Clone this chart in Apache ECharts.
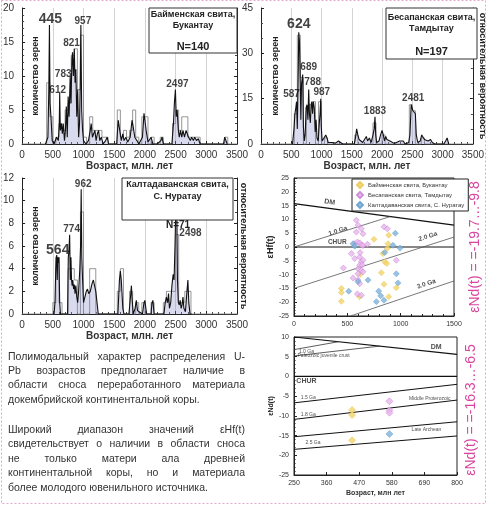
<!DOCTYPE html>
<html>
<head>
<meta charset="utf-8">
<script src="https://cdn.jsdelivr.net/npm/echarts@6/dist/echarts.min.js"></script>
<style>html,body{margin:0;padding:0;background:#fff}#main{width:487px;height:505px}</style>
</head>
<body>
<div id="main"></div>
<script>
var FONT = "'Liberation Sans', Arial, sans-serif";

// ---- U-Pb age spectra: probability curves [age, value] ----
var curve1 = [[380,0],[420,1],[435,8],[445,17.5],[455,6],[470,4],[490,0.5],[520,0],[560,1],[590,0.5],[605,3],[612,7.5],[622,2],[640,3],[655,1.5],[670,3],[690,0.5],[705,2],[720,5.5],[735,1],[750,7],[765,4],[783,10],[795,6],[812,12.5],[821,13.5],[835,10],[850,14],[862,9],[875,11],[890,4],[905,8],[920,1],[935,3],[945,8],[957,17.5],[970,5],[985,2],[1000,0.5],[1040,0],[1080,0.5],[1110,2],[1125,3],[1145,1],[1165,1.5],[1185,2],[1205,0.5],[1225,1.5],[1245,2],[1265,0.5],[1290,1],[1320,0],[1360,0.5],[1385,1],[1410,0],[1540,0],[1565,3.5],[1590,2],[1615,0.5],[1640,1.5],[1660,0.5],[1690,1],[1720,0.3],[1760,1],[1790,3.5],[1810,2.5],[1835,1],[1870,0.5],[1900,0],[1960,1],[1985,4.5],[2000,3.5],[2020,2],[2050,0.3],[2100,1],[2130,0],[2200,0],[2260,0.5],[2280,1],[2300,0],[2440,0],[2465,3],[2480,6],[2497,8],[2510,4],[2525,5],[2545,2],[2560,1],[2580,2],[2600,1],[2620,2],[2645,1],[2670,2],[2690,1.5],[2710,1],[2740,0.5],[2760,1],[2790,0.5],[2810,1],[2840,0.5],[2870,0.8],[2900,0],[3280,0],[3300,1],[3320,0.8],[3340,0]];
var curve2 = [[520,0],[545,5],[560,10],[575,12],[587,14],[600,5],[612,20],[624,37],[635,34],[645,25],[658,8],[670,20],[689,23],[700,6],[715,1],[730,3],[745,12],[760,13],[775,8],[788,18],[800,10],[815,7],[828,13],[840,14],[852,10],[865,14],[880,12],[895,4],[910,8],[925,2],[945,1],[960,6],[975,10],[987,15],[995,6],[1010,1],[1040,1],[1070,3],[1090,2],[1110,0.5],[1140,1],[1170,0.5],[1200,1],[1230,0.3],[1280,1],[1310,0.5],[1350,0],[1540,0],[1560,2],[1580,5],[1600,3],[1620,1.5],[1650,1],[1680,0.5],[1710,1],[1740,2.5],[1760,1],[1790,2],[1820,0.5],[1850,3],[1870,5],[1883,9],[1895,3],[1910,0.5],[1950,1],[1975,3],[2000,4.5],[2020,3],[2040,1],[2060,2.5],[2080,1.5],[2100,2],[2130,1],[2160,0.5],[2200,0.2],[2290,1],[2320,0.5],[2350,1],[2380,0],[2440,0.5],[2460,3],[2481,13],[2495,12],[2510,11],[2530,11],[2550,10],[2565,3],[2590,0.5],[2630,1],[2655,3],[2680,2.5],[2700,1.5],[2730,2],[2760,1],[2800,1.5],[2830,0.5],[2870,0],[3020,0],[3050,1],[3075,2],[3100,0]];
var curve3 = [[520,0],[535,1],[548,4],[556,5],[564,5.2],[572,3],[580,5],[590,4.5],[600,5],[612,1],[625,0],[740,0],[752,5],[762,5.5],[774,7],[785,3],[795,5],[805,3],[815,2.5],[825,3],[838,2.2],[850,2.6],[862,1.8],[875,2.5],[890,1.5],[905,1],[920,2],[940,4],[952,6],[962,11],[972,5],[985,3],[1000,1],[1020,1],[1045,2],[1065,2.2],[1085,1.8],[1110,2],[1140,2.7],[1160,3],[1180,2.5],[1200,2],[1220,1],[1240,0],[1560,0],[1585,3],[1600,3.8],[1615,3],[1640,0.5],[1660,0],[1740,0],[1765,1.5],[1780,2.5],[1795,1],[1810,0],[1840,0.5],[1860,1.2],[1880,0.3],[1960,0],[1985,1],[2000,1.2],[2015,0.5],[2030,0],[2100,0],[2115,1],[2130,1.2],[2150,0],[2310,0],[2330,1],[2350,1.5],[2370,1],[2385,1.8],[2400,0.5],[2420,1],[2440,2.5],[2460,3.5],[2475,3],[2490,6],[2498,8],[2510,11.5],[2520,9],[2530,3],[2545,1],[2560,0.8],[2575,1.2],[2590,0.5],[2605,0.8],[2620,1.5],[2635,0.5],[2660,0.2],[2685,2],[2700,3],[2715,1],[2735,0],[2760,0]];

// ---- histograms: [bin start, count], 50 Ma bins ----
var hist1 = [[400,9],[450,4],[550,1],[600,3],[650,2],[700,5],[750,6],[800,13],[850,14],[900,8],[950,16],[1000,1],[1100,4],[1150,2],[1200,2],[1250,2],[1300,1],[1350,1],[1550,5],[1600,1],[1650,2],[1700,1],[1750,2],[1800,5],[1850,1],[1950,4],[2000,4],[2100,1],[2250,1],[2450,3],[2500,5],[2550,2],[2600,4],[2650,4],[2700,1],[2750,1],[2800,1],[2850,1],[3300,1]];
var hist2 = [[550,10],[600,36],[650,22],[750,12],[800,13],[850,14],[950,14],[1050,2],[1550,3],[1850,7],[2000,3],[2450,13],[2500,11],[2650,2]];
var hist3 = [[500,1],[550,5],[600,1],[750,4],[800,4],[850,3],[950,9],[1100,4],[1150,4],[1550,2],[1600,4],[1750,2],[1850,1],[1950,1],[2100,1],[2300,1],[2350,2],[2400,2],[2450,2],[2500,7],[2550,1],[2600,1],[2650,2],[2700,2]];

// ---- peak labels [age, value, text] ----
var peaks1 = [[445,17.5,'445'],[957,17.5,'957'],[821,13.5,'821'],[783,10,'783'],[612,7.5,'612'],[2497,8,'2497']];
var peaks2 = [[624,37,'624'],[689,23,'689'],[788,18,'788'],[587,14,'587'],[987,15,'987'],[1883,9,'1883'],[2481,13,'2481']];
var peaks3 = [[564,5.2,'564'],[774,7,'774'],[962,11,'962'],[2498,7.6,'2498']];
var peakOff1 = [[1,-6],[2,-4],[-1,-9],[-7,-2],[-2,-3],[2,-5]];
var peakOff2 = [[0,-8],[6,-7],[4,-7],[-5,-7],[1,-6],[0,-6],[2,-6]];
var peakOff3 = [[1,-5],[2,-5],[2,-5],[15,5]];
var peakBig1 = '445', peakBig2 = '624', peakBig3 = '564';

// ---- εHf(t) vs age ----
var hfBaim = [[444,-15],[444,-16.5],[444,-19.7],[615,-18],[750,2.8],[834,-2.4],[850,-5.4],[819,-9.3],[844,-13.5],[888,4.3],[881,1.2],[875,-0.5],[888,-18],[959,-14.8],[620,-10],[870,-6]];
var hfBesap = [[584,9.7],[600,7.9],[584,5.4],[631,6.6],[647,4.8],[569,1.2],[594,1.8],[616,1.5],[631,0.7],[647,0.5],[688,1],[538,-2.4],[569,-4.2],[616,-3.6],[631,-5.4],[647,-4.8],[616,-6.6],[600,-7.9],[631,-8.5],[647,-9],[600,-9.7],[553,-11.2],[600,-12],[616,-13.3],[594,-17],[631,-17.5],[463,-7.6],[844,7.3],[875,6.6],[959,-4.8],[620,-2],[640,-6.5]];
var hfKalt = [[553,1.2],[569,0.3],[513,-16],[694,-12],[772,-19.8],[794,-16],[813,-17.7],[844,-19.3],[850,-2],[950,5],[928,0.6],[994,-0.4],[959,-9.7],[975,-13],[600,-12.5]];
var hfDM = [[0,15.7],[1500,7.9]];
var hfCHUR = [[0,0],[1500,0]];
var hfGa1 = [[0,0],[900,11]];
var hfGa2 = [[0,-15],[1500,3.6]];
var hfGa3 = [[530,-25],[1500,-12.3]];
var hfLabels = [[334,16.3,'DM'],[412,5.8,'1.0 Ga'],[406,1.8,'CHUR'],[1256,3.8,'2.0 Ga'],[1240,-13.4,'3.0 Ga']];
var hfLabelRot = [-8,18,0,18,19];

// ---- εNd(t) vs age ----
var ndBaim = [[446,-8.5],[446,-9.8],[446,-16.2]];
var ndBesap = [[572,-6.3],[572,-8.6],[572,-9.2]];
var ndKalt = [[572,-14.6]];
var ndDM = [[250,10],[800,5.6]];
var ndGa10 = [[250,6.8],[400,8.8]];
var ndPaleo = [[250,5.2],[540,7.7]];
var ndCHUR = [[250,0],[800,0]];
var ndGa15 = [[250,-6.7],[800,-2]];
var ndGa18 = [[250,-10.9],[800,-6]];
var ndGa25a = [[250,-15.3],[800,-11.5]];
var ndGa25b = [[250,-18.5],[800,-15.1]];
var ndTicks = [250,360,470,580,690,800];
var ndLabels = [[730,7.4,'DM'],[292,6.3,'1.0 Ga'],[350,5.2,'Paleozoic juvenile crust'],[292,-1.2,'CHUR'],[298,-5.3,'1.5 Ga'],[298,-9.7,'1.8 Ga'],[314,-16.7,'2.5 Ga'],[708,-5.6,'Middle Proterozoic'],[697,-13.6,'Late Archean']];

var seriesNames = ['Байменская свита, Букантау','Бесапанская свита, Тамдытау','Калтадаванская свита, С. Нуратау'];
var textPar1 = ['Полимодальный характер распределения U-','Pb возрастов предполагает наличие в','области сноса переработанного материала','докембрийской континентальной коры.'];
var textPar2 = ['Широкий диапазон значений εHf(t)','свидетельствует о наличии в области сноса','не только матери ала древней','континентальной коры, но и материала','более молодого ювенильного источника.'];

var chart = echarts.init(document.getElementById('main'));

function steps(bins) {
  var map = {};
  bins.forEach(function (b) { map[b[0]] = b[1]; });
  var out = [];
  for (var a = 0; a <= 3500; a += 50) out.push([a, map[a] || 0]);
  return out;
}
function plain(v) { return String(v); }

var grids = [
  {left: 22, top: 8, width: 215, height: 136},
  {left: 261, top: 8, width: 216, height: 136},
  {left: 22, top: 178, width: 215, height: 136},
  {left: 294, top: 178, width: 160, height: 138, show: true, borderColor: '#222', borderWidth: 1},
  {left: 294, top: 337, width: 163, height: 138, show: true, borderColor: '#222', borderWidth: 1}
];

var axisLine = {show: true, onZero: false, lineStyle: {color: '#222', width: 1}};
function ageAxis(g) {
  return {
    type: 'value', gridIndex: g, min: 0, max: 3500, interval: 500,
    axisLine: axisLine,
    axisTick: {inside: true, length: 3, lineStyle: {color: '#222'}},
    minorTick: {show: true, splitNumber: 5, length: 2, lineStyle: {color: '#444'}},
    axisLabel: {fontSize: 10, color: '#333', margin: 6, fontFamily: FONT, formatter: plain},
    splitLine: {show: true, lineStyle: {color: '#d4d4d4'}},
    name: 'Возраст, млн. лет', nameLocation: 'middle', nameGap: 15,
    nameTextStyle: {fontSize: 10, fontWeight: 'bold', color: '#333', fontFamily: FONT}
  };
}
function countAxis(g, max, step, minor, right) {
  return {
    type: 'value', gridIndex: g, min: 0, max: max, interval: step, position: right ? 'right' : 'left',
    axisLine: axisLine,
    axisTick: {show: true, inside: true, length: 3, lineStyle: {color: '#222'}},
    minorTick: {show: true, splitNumber: minor, length: 2, lineStyle: {color: '#444'}},
    axisLabel: {show: !right, fontSize: 10, color: '#333', margin: 8, fontFamily: FONT},
    splitLine: {show: false}
  };
}
var smallLabel = {fontSize: 7, color: '#333', fontFamily: FONT, formatter: plain};

var xAxes = [ageAxis(0), ageAxis(1), ageAxis(2),
  {type: 'value', gridIndex: 3, min: 0, max: 1500, interval: 500, axisLine: axisLine,
   axisTick: {inside: true, length: 3}, minorTick: {show: true, splitNumber: 5, length: 2},
   axisLabel: Object.assign({margin: 5}, smallLabel), splitLine: {show: false}},
  {type: 'value', gridIndex: 4, min: 250, max: 800, axisLine: axisLine,
   axisTick: {inside: true, length: 3, customValues: ndTicks},
   axisLabel: Object.assign({margin: 5, customValues: ndTicks}, smallLabel), splitLine: {show: false},
   name: 'Возраст, млн лет', nameLocation: 'middle', nameGap: 15,
   nameTextStyle: {fontSize: 7, fontWeight: 'bold', color: '#333', fontFamily: FONT}}
];
var yAxes = [countAxis(0, 20, 5, 5), countAxis(1, 45, 15, 3), countAxis(2, 12, 2, 2),
  countAxis(0, 20, 5, 5, true), countAxis(1, 45, 15, 3, true), countAxis(2, 12, 2, 2, true),
  {type: 'value', gridIndex: 3, min: -25, max: 25, interval: 5, axisLine: axisLine,
   axisTick: {inside: true, length: 3}, minorTick: {show: true, splitNumber: 5, length: 1.5},
   axisLabel: Object.assign({margin: 5}, smallLabel), splitLine: {show: false},
   name: 'εHf(t)', nameLocation: 'middle', nameGap: 17,
   nameTextStyle: {fontSize: 9, fontWeight: 'bold', color: '#222', fontFamily: FONT}},
  {type: 'value', gridIndex: 4, min: -25, max: 10, interval: 5, axisLine: axisLine,
   axisTick: {inside: true, length: 3}, minorTick: {show: true, splitNumber: 5, length: 1.5},
   axisLabel: Object.assign({margin: 5}, smallLabel), splitLine: {show: false},
   name: 'εNd(t)', nameLocation: 'middle', nameGap: 14,
   nameTextStyle: {fontSize: 7, fontWeight: 'bold', color: '#222', fontFamily: FONT}}
];

var hidden = {color: 'rgba(0,0,0,0)'};
var series = [];
[[curve1, hist1, peaks1, peakOff1, peakBig1], [curve2, hist2, peaks2, peakOff2, peakBig2], [curve3, hist3, peaks3, peakOff3, peakBig3]].forEach(function (s, i) {
  series.push({
    type: 'line', xAxisIndex: i, yAxisIndex: i, data: s[0], symbol: 'none', z: 3,
    lineStyle: {color: '#111', width: 1.1},
    areaStyle: {color: 'rgba(135,140,200,0.45)'}
  });
  series.push({
    type: 'line', xAxisIndex: i, yAxisIndex: i, data: steps(s[1]), step: 'end', symbol: 'none', z: 2,
    lineStyle: {color: '#8a8a8a', width: 0.9}
  });
  series.push({
    type: 'scatter', xAxisIndex: i, yAxisIndex: i, symbolSize: 1, z: 6, silent: true,
    itemStyle: hidden,
    data: s[2].map(function (p, k) {
      var big = p[2] === s[4];
      return {value: [p[0], p[1], p[2]], label: {offset: s[3][k], fontSize: big ? 14 : 10}};
    }),
    label: {show: true, position: 'inside', formatter: function (d) { return d.value[2]; }, fontWeight: 'bold', color: '#111', fontFamily: FONT}
  });
});

function refLine(x, y, data, color, width) {
  return {type: 'line', xAxisIndex: x, yAxisIndex: y, data: data, symbol: 'none', silent: true, z: 2,
          lineStyle: {color: color, width: width}};
}
series.push(refLine(3, 6, hfDM, '#111', 1.3), refLine(3, 6, hfCHUR, '#111', 1),
  refLine(3, 6, hfGa1, '#555', 0.8), refLine(3, 6, hfGa2, '#555', 0.8), refLine(3, 6, hfGa3, '#555', 0.8));
series.push(refLine(4, 7, ndDM, '#111', 1.2), refLine(4, 7, ndGa10, '#333', 0.8), refLine(4, 7, ndPaleo, '#333', 0.8),
  refLine(4, 7, ndCHUR, '#111', 1.2), refLine(4, 7, ndGa15, '#111', 1), refLine(4, 7, ndGa18, '#111', 1),
  refLine(4, 7, ndGa25a, '#111', 1), refLine(4, 7, ndGa25b, '#111', 1));

var ptColors = ['#f2d46a', '#e9b6ee', '#7fb2da'];
var ptBorders = ['#e8c54c', '#c57ccf', '#5d9acb'];
[hfBaim, hfBesap, hfKalt].forEach(function (d, i) {
  series.push({type: 'scatter', name: seriesNames[i], xAxisIndex: 3, yAxisIndex: 6, data: d, symbol: 'diamond',
    symbolSize: 6, z: 4, itemStyle: {color: ptColors[i], borderColor: ptBorders[i], borderWidth: 0.6}});
});
[ndBaim, ndBesap, ndKalt].forEach(function (d, i) {
  series.push({type: 'scatter', xAxisIndex: 4, yAxisIndex: 7, data: d, symbol: 'diamond',
    symbolSize: 7, z: 4, itemStyle: {color: ptColors[i], borderColor: ptBorders[i], borderWidth: 0.6}});
});

series.push({type: 'scatter', xAxisIndex: 3, yAxisIndex: 6, symbolSize: 1, itemStyle: hidden, silent: true, z: 5,
  data: hfLabels.map(function (l, k) {
    return {value: l, label: {rotate: hfLabelRot[k], fontSize: l[2] === 'DM' ? 7 : 6.5}};
  }),
  label: {show: true, position: 'inside', formatter: function (d) { return d.value[2]; }, fontWeight: 'bold', color: '#222', fontFamily: FONT}});
series.push({type: 'scatter', xAxisIndex: 4, yAxisIndex: 7, symbolSize: 1, itemStyle: hidden, silent: true, z: 5,
  data: ndLabels.map(function (l) {
    var bold = l[2] === 'DM' || l[2] === 'CHUR';
    return {value: l, label: {fontSize: bold ? 7 : 5, fontWeight: bold ? 'bold' : 'normal'}};
  }),
  label: {show: true, position: 'inside', formatter: function (d) { return d.value[2]; }, color: '#222', fontFamily: FONT}});

// ---- graphic overlays ----
var g = [];
g.push({type: 'rect', shape: {x: 1.5, y: 0.5, width: 484, height: 503}, z: 0,
  style: {fill: 'none', stroke: '#e7a6cf', lineWidth: 1, lineDash: [2, 2]}});

function box(x, y, w, h, lines) {
  g.push({type: 'rect', shape: {x: x, y: y, width: w, height: h}, z: 100,
    style: {fill: '#fff', stroke: '#333', lineWidth: 1}});
  lines.forEach(function (l) {
    g.push({type: 'text', x: x + w / 2, y: l[1], z: 101,
      style: {text: l[0], font: 'bold ' + l[2] + 'px ' + FONT, fill: '#222', textAlign: 'center', textVerticalAlign: 'middle', align: 'center', verticalAlign: 'middle'}});
  });
}
box(149, 8, 88, 45, [['Байменская свита,', 15, 9], ['Букантау', 26, 9], ['N=140', 47, 11]]);
box(386, 8, 91, 51, [['Бесапанская свита,', 18, 9], ['Тамдытау', 29, 9], ['N=197', 52, 11]]);
box(122, 178, 111, 42, [['Калтадаванская свита,', 185, 9], ['С. Нуратау', 197, 9]]);
g.push({type: 'text', x: 178, y: 225, z: 101,
  style: {text: 'N=71', font: 'bold 10px ' + FONT, fill: '#222', textAlign: 'center', textVerticalAlign: 'middle', align: 'center', verticalAlign: 'middle'}});

function vtext(x, y, txt, font, color, rot) {
  g.push({type: 'text', x: x, y: y, rotation: rot, z: 101,
    style: {text: txt, font: font, fill: color, textAlign: 'center', textVerticalAlign: 'middle', align: 'center', verticalAlign: 'middle'}});
}
vtext(36, 76, 'количество зерен', 'bold 9px ' + FONT, '#222', Math.PI / 2);
vtext(276, 76, 'количество зерен', 'bold 9px ' + FONT, '#222', Math.PI / 2);
vtext(36, 246, 'количество зерен', 'bold 9px ' + FONT, '#222', Math.PI / 2);
vtext(482, 76, 'относительная вероятность', 'bold 9px ' + FONT, '#222', -Math.PI / 2);
vtext(243, 246, 'относительная вероятность', 'bold 9px ' + FONT, '#222', -Math.PI / 2);
vtext(475, 247, 'εNd(t) = =-19.7…-9.8', '14px ' + FONT, '#d8449e', Math.PI / 2);
vtext(471, 410, 'εNd(t) = =-16.3…-6.5', '14px ' + FONT, '#d8449e', Math.PI / 2);

// justified paragraph text
var ctx = document.createElement('canvas').getContext('2d');
var TFONT = '10.5px ' + FONT;
ctx.font = TFONT;
function para(lines, y0, lh) {
  lines.forEach(function (line, i) {
    var y = y0 + i * lh;
    var last = i === lines.length - 1;
    var words = line.split(' ');
    if (last || words.length < 2) {
      g.push({type: 'text', x: 8, y: y, style: {text: line, font: TFONT, fill: '#333', textVerticalAlign: 'middle', verticalAlign: 'middle'}});
      return;
    }
    var widths = words.map(function (w) { return ctx.measureText(w).width; });
    var total = widths.reduce(function (a, b) { return a + b; }, 0);
    var gap = (237 - total) / (words.length - 1);
    var x = 8;
    words.forEach(function (w, k) {
      g.push({type: 'text', x: x, y: y, style: {text: w, font: TFONT, fill: '#333', textVerticalAlign: 'middle', verticalAlign: 'middle'}});
      x += widths[k] + gap;
    });
  });
}
para(textPar1, 357, 14.3);
para(textPar2, 430, 14.5);

chart.setOption({
  animation: false,
  backgroundColor: '#fff',
  grid: grids,
  xAxis: xAxes,
  yAxis: yAxes,
  legend: {
    data: seriesNames, orient: 'vertical', left: 352, top: 179, width: 102,
    itemWidth: 6, itemHeight: 6, itemGap: 2, padding: [2, 4, 2, 4],
    backgroundColor: '#fff', borderColor: '#222', borderWidth: 1, borderRadius: 0,
    textStyle: {fontSize: 6, color: '#333', fontFamily: FONT}
  },
  series: series,
  graphic: g
});
</script>
</body>
</html>
